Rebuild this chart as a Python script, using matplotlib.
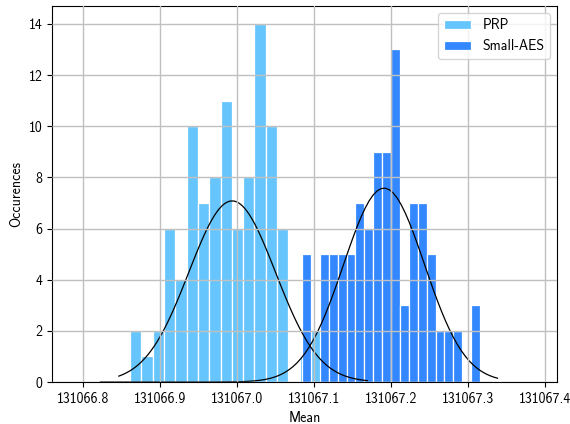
import matplotlib
matplotlib.use('Agg')
import matplotlib.pyplot as plt
import numpy as np

plt.rcParams['font.family'] = ['cmss10', 'DejaVu Sans']
plt.rcParams['axes.unicode_minus'] = False

# histogram counts (20 bins each)
prp_counts = [2, 1, 2, 6, 4, 10, 7, 8, 11, 6, 8, 14, 10, 6, 0, 1, 2, 0, 1, 1]
aes_counts = [5, 0, 5, 5, 5, 5, 7, 6, 9, 9, 13, 3, 7, 7, 5, 2, 2, 2, 0, 3]

prp_range = (131066.8607, 131067.1546)
aes_range = (131067.0844, 131067.3159)

# normal fits (mean, std) drawn as plain pdf
prp_mu, prp_std = 131066.9934, 0.05635
aes_mu, aes_std = 131067.1910, 0.05263
prp_xr = (131066.846, 131067.1693)
aes_xr = (131066.822, 131067.3386)

prp_color = '#66c5fc'
aes_color = '#3388ff'

def gauss(x, mu, s):
    return np.exp(-0.5*((x-mu)/s)**2)/(s*np.sqrt(2*np.pi))

fig = plt.figure(figsize=(5.7, 4.24), dpi=100)
ax = fig.add_axes([0.0912, 0.099, 0.886, 0.887])

prp_edges = np.linspace(prp_range[0], prp_range[1], len(prp_counts)+1)
aes_edges = np.linspace(aes_range[0], aes_range[1], len(aes_counts)+1)

ax.hist(prp_edges[:-1], bins=prp_edges, weights=prp_counts, color=prp_color,
        edgecolor='white', linewidth=0.9, label='PRP')
x = np.linspace(prp_xr[0], prp_xr[1], 100)
ax.plot(x, gauss(x, prp_mu, prp_std), 'k', linewidth=0.9)

ax.hist(aes_edges[:-1], bins=aes_edges, weights=aes_counts, color=aes_color,
        edgecolor='white', linewidth=0.9, label='Small-AES')
x = np.linspace(aes_xr[0], aes_xr[1], 100)
ax.plot(x, gauss(x, aes_mu, aes_std), 'k', linewidth=0.9)

ax.set_xlim(131066.759, 131067.416)
ax.set_ylim(0, 14.7)
ax.set_xticks(np.arange(131066.8, 131067.45, 0.1))
ax.set_yticks(range(0, 15, 2))
ax.ticklabel_format(axis='x', useOffset=False, style='plain')
ax.grid(True, color='#c0c0c0', linewidth=1.0)
ax.set_axisbelow(False)
ax.set_xlabel('Mean')
ax.set_ylabel('Occurences')
ax.legend(loc='upper right')

plt.savefig('out.png', dpi=100)
